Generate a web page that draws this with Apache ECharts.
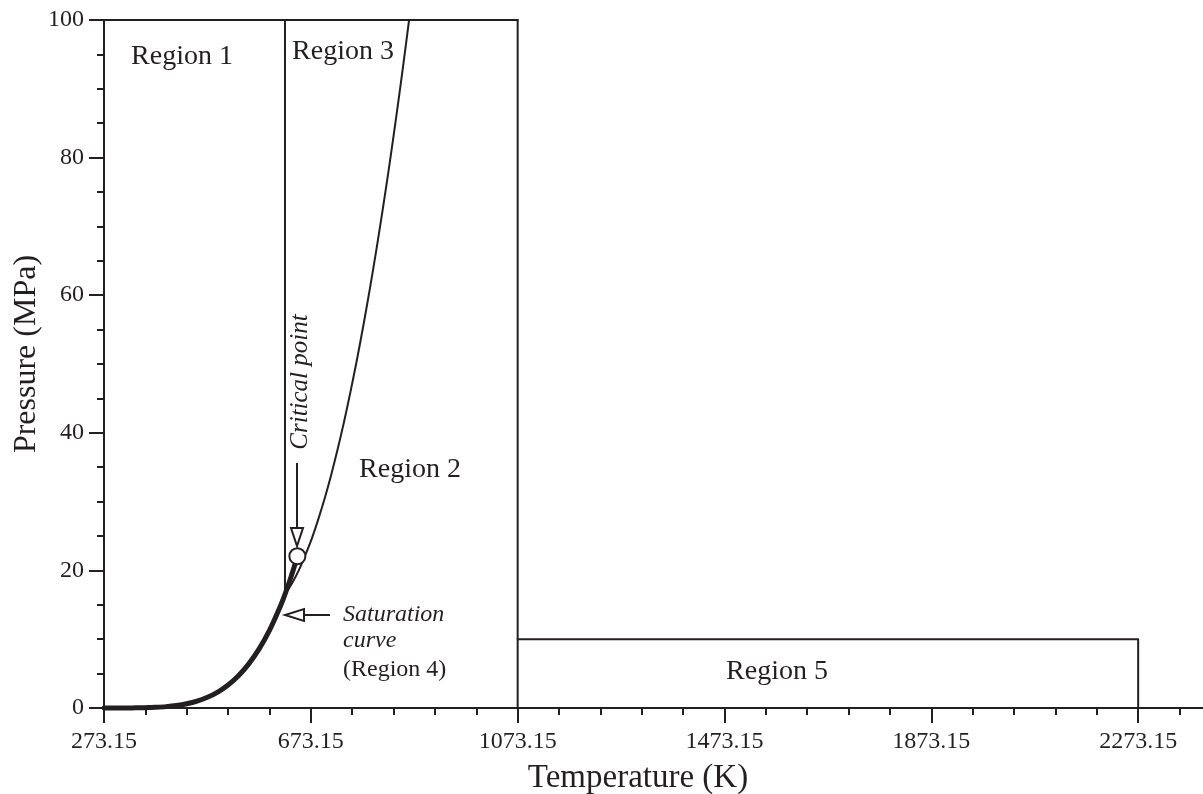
<!DOCTYPE html>
<html>
<head>
<meta charset="utf-8">
<script src="https://cdn.jsdelivr.net/npm/echarts@6/dist/echarts.min.js"></script>
<style>
html,body{margin:0;padding:0;background:#fff;}
#chart{width:1203px;height:794px;}
</style>
</head>
<body>
<div id="chart"></div>
<script>
// ---- data (temperature in K, pressure in MPa) ----
var satT = [273.15, 283.15, 293.15, 303.15, 313.15, 323.15, 333.15, 343.15, 353.15, 363.15, 373.15, 393.15, 413.15, 433.15, 453.15, 473.15, 493.15, 513.15, 533.15, 553.15, 573.15, 593.15, 613.15, 623.15, 633.15, 643.15, 647.10];
var satP = [0.0006, 0.0012, 0.0023, 0.0042, 0.0074, 0.0124, 0.0199, 0.0312, 0.0474, 0.0702, 0.1014, 0.1987, 0.3615, 0.6182, 1.0028, 1.5549, 2.3196, 3.3469, 4.6923, 6.4166, 8.5879, 11.284, 14.601, 16.529, 18.666, 21.044, 22.064];
var b23T = [623.15, 637.5, 650, 662.5, 675, 687.5, 700, 712.5, 725, 737.5, 750, 762.5, 775, 787.5, 800, 812.5, 825, 837.5, 850, 863.15];
var b23P = [16.53, 18.22, 20.03, 22.22, 24.62, 27.41, 30.48, 33.88, 37.61, 41.65, 46.02, 50.70, 55.70, 61.02, 66.65, 72.61, 78.88, 85.47, 92.39, 100];
var r13T = [623.15, 623.15];
var r13P = [16.53, 100];
var topT = [273.15, 1073.15];
var topP = [100, 100];
var r25T = [1073.15, 1073.15];
var r25P = [0, 100];
var r5T = [1073.15, 2273.15, 2273.15];
var r5P = [10, 10, 0];
var cpT = [647.10];
var cpP = [22.064];
var tOffset = 273.15;
var xTickStep = 400;
var yTicks = [0, 20, 40, 60, 80, 100];

function pts(T, P) {
  return T.map(function (t, i) { return [t - tOffset, P[i]]; });
}

var INK = '#231f20';
var SERIF = '"Liberation Serif", "DejaVu Serif", serif';

var chart = echarts.init(document.getElementById('chart'), null, {renderer: 'canvas'});

function lineSeries(T, P, w, smooth) {
  return {
    type: 'line', data: pts(T, P), symbol: 'none', smooth: smooth ? 0.25 : false,
    clip: false, lineStyle: {color: INK, width: w, cap: 'round', join: 'round'}, z: 3, silent: true
  };
}

function txt(x, y, s, size, italic, align, rot) {
  return {
    type: 'text', x: x, y: y, silent: true, rotation: rot || 0,
    style: {text: s, font: (italic ? 'italic ' : '') + size + 'px ' + SERIF, fill: INK,
      align: align || 'center', verticalAlign: 'middle'}
  };
}

var option = {
  animation: false,
  backgroundColor: '#fff',
  grid: {left: 104, top: 20, width: 1241, height: 688, containLabel: false, outerBoundsMode: 'none'},
  xAxis: {
    type: 'value', min: 0, max: 2400, interval: xTickStep,
    axisLine: {lineStyle: {color: INK, width: 2}},
    axisTick: {length: 15, lineStyle: {color: INK, width: 2}},
    minorTick: {show: true, splitNumber: 5, length: 7, lineStyle: {color: INK, width: 2}},
    splitLine: {show: false},
    axisLabel: {margin: 22, fontFamily: SERIF, fontSize: 24, color: INK, showMaxLabel: false,
      formatter: function (v) { return (v + tOffset).toFixed(2); }}
  },
  yAxis: {
    type: 'value', min: yTicks[0], max: yTicks[yTicks.length - 1], interval: yTicks[1] - yTicks[0],
    axisLine: {show: true, lineStyle: {color: INK, width: 2}},
    axisTick: {show: true, length: 15, lineStyle: {color: INK, width: 2}},
    minorTick: {show: true, splitNumber: 4, length: 7, lineStyle: {color: INK, width: 2}},
    splitLine: {show: false},
    axisLabel: {margin: 20, fontFamily: SERIF, fontSize: 24, color: INK}
  },
  series: [
    lineSeries(topT, topP, 2, false),
    lineSeries(r13T, r13P, 2, false),
    lineSeries(r25T, r25P, 2, false),
    lineSeries(r5T, r5P, 2, false),
    lineSeries(b23T, b23P, 2, true),
    lineSeries(satT, satP, 5, true),
    {
      type: 'scatter', data: pts(cpT, cpP), symbol: 'circle', symbolSize: 16, z: 5, silent: true,
      itemStyle: {color: '#fff', borderColor: INK, borderWidth: 2, opacity: 1}
    }
  ],
  graphic: [
    txt(182, 57, 'Region 1', 28),
    txt(343, 52, 'Region 3', 28),
    txt(410, 470, 'Region 2', 28),
    txt(777, 672, 'Region 5', 28),
    txt(343, 615, 'Saturation', 24, true, 'left'),
    txt(343, 641, 'curve', 24, true, 'left'),
    txt(343, 670, '(Region 4)', 24, false, 'left'),
    txt(638, 778, 'Temperature (K)', 33),
    txt(27, 354, 'Pressure (MPa)', 32, false, 'center', Math.PI / 2),
    txt(300, 382, 'Critical point', 25, true, 'center', Math.PI / 2),
    {type: 'polyline', silent: true, shape: {points: [[297, 463], [297, 528]]}, style: {stroke: INK, lineWidth: 2}},
    {type: 'polygon', silent: true, shape: {points: [[291, 528], [303, 528], [297, 546]]}, style: {stroke: INK, fill: '#fff', lineWidth: 2}},
    {type: 'polyline', silent: true, shape: {points: [[330, 615], [304, 615]]}, style: {stroke: INK, lineWidth: 2}},
    {type: 'polygon', silent: true, shape: {points: [[304, 609], [304, 621], [285, 615]]}, style: {stroke: INK, fill: '#fff', lineWidth: 2}}
  ]
};
chart.setOption(option);
</script>
</body>
</html>
